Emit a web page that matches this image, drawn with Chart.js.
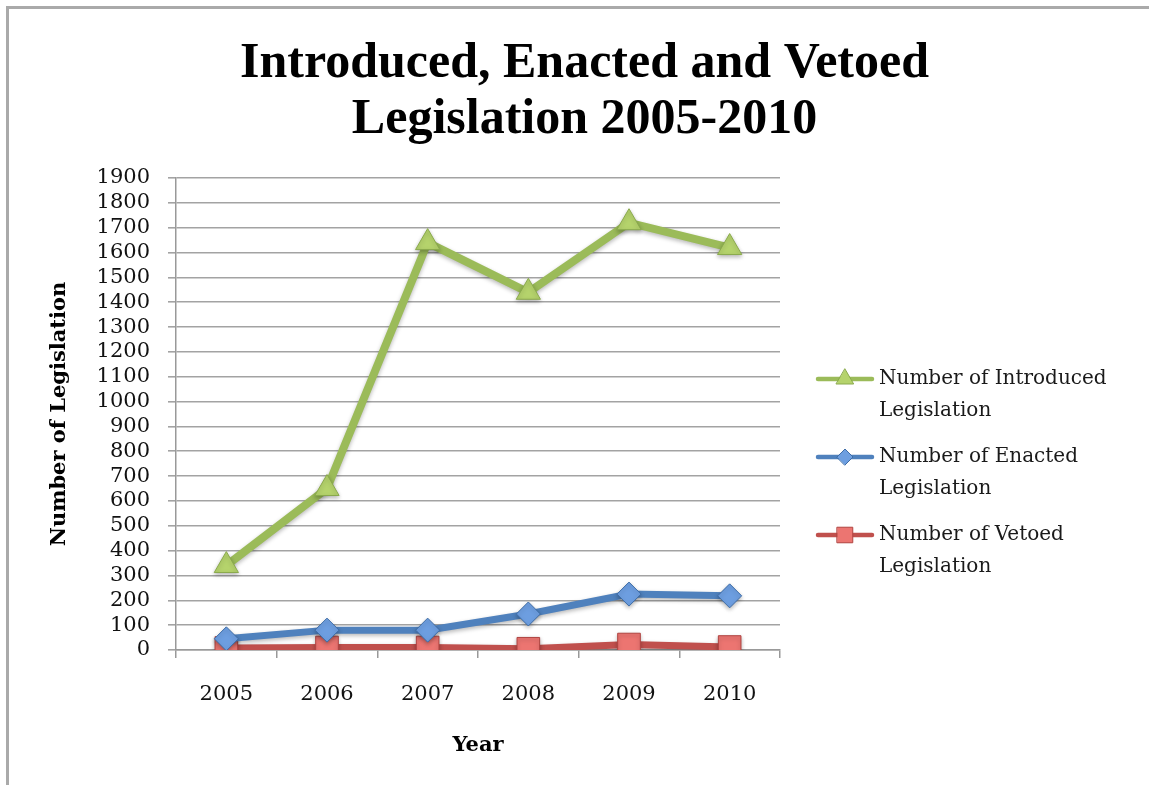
<!DOCTYPE html>
<html>
<head>
<meta charset="utf-8">
<script src="https://cdn.jsdelivr.net/npm/chart.js@4/dist/chart.umd.min.js"></script>
<style>
  html, body { margin:0; padding:0; background:#fff; }
  #wrap { position:relative; width:1149px; height:785px; overflow:hidden; }
  #frame { position:absolute; left:6px; top:6px; right:-10px; bottom:-10px; border-top:3px solid #aaa; border-left:3px solid #aaa; }
  #c { position:absolute; left:0; top:0; }
</style>
</head>
<body>
<div id="wrap">
  <div id="frame"></div>
  <canvas id="c" width="1149" height="785"></canvas>
</div>
<script>
const years = ['2005', '2006', '2007', '2008', '2009', '2010'];
const introduced = [340, 650, 1640, 1440, 1720, 1620];
const enacted = [45, 80, 80, 145, 225, 218];
const vetoed = [8, 10, 10, 5, 22, 12];
const seriesNames = [
  ['Number of Introduced', 'Legislation'],
  ['Number of Enacted', 'Legislation'],
  ['Number of Vetoed', 'Legislation']
];
const yMax = 1900, yStep = 100;

const serif = "'DejaVu Serif', serif";
const titleSerif = "'Liberation Serif', serif";

const styles = [
  { line:'#9bbb59', fill:'#b5d36c', edge:'#8aaa4c', shape:'triangle', r:14 },
  { line:'#4f81bd', fill:'#6d9ee0', edge:'#3d6ca6', shape:'rectRot', r:12 },
  { line:'#c0504d', fill:'#ec7571', edge:'#b04441', shape:'rect', r:16 }
];

// soft shadow under lines and markers, like the office chart
const shadowPlugin = {
  id:'shadow',
  beforeDatasetsDraw(chart){ const c = chart.ctx; c.save(); c.shadowColor='rgba(0,0,0,0.28)'; c.shadowBlur=4; c.shadowOffsetY=2; },
  afterDatasetsDraw(chart){ chart.ctx.restore(); }
};

// wrapped legend on the right
const legendPlugin = {
  id:'wrapLegend',
  afterDraw(chart){
    const c = chart.ctx;
    const x0 = 818, x1 = 872, tx = 879;
    const rows = [379, 457, 535];
    c.save();
    rows.forEach((y, i) => {
      const s = styles[i];
      c.strokeStyle = s.line; c.lineWidth = 4.5; c.lineCap = 'round';
      c.beginPath(); c.moveTo(x0, y); c.lineTo(x1, y); c.stroke();
      c.fillStyle = s.fill; c.strokeStyle = s.edge; c.lineWidth = 1;
      const r = s.shape === 'rect' ? 11 : (s.shape === 'triangle' ? 10 : 8);
      if (Chart.helpers && Chart.helpers.drawPoint) {
        Chart.helpers.drawPoint(c, { pointStyle:s.shape, radius:r, borderWidth:1, rotation:0 }, (x0 + x1) / 2, y);
      }
      c.fillStyle = '#1a1a1a';
      c.font = "20px " + serif;
      c.textBaseline = 'middle'; c.textAlign = 'left';
      seriesNames[i].forEach((t, k) => c.fillText(t, tx, y + k * 32));
    });
    c.restore();
  }
};

const ds = [introduced, enacted, vetoed].map((d, i) => ({
  label: seriesNames[i].join(' '),
  data: d,
  borderColor: styles[i].line,
  borderWidth: i === 0 ? 8 : 7,
  pointStyle: styles[i].shape,
  pointRadius: styles[i].r,
  pointHoverRadius: styles[i].r,
  pointBackgroundColor: styles[i].fill,
  pointBorderColor: styles[i].edge,
  pointBorderWidth: 1,
  tension: 0,
  fill: false
}));

new Chart(document.getElementById('c'), {
  type:'line',
  data:{ labels: years, datasets: ds },
  options:{
    responsive:false,
    animation:false,
    layout:{ padding:{ left:20, right:0, top:0, bottom:0 } },
    plugins:{
      legend:{ display:false },
      tooltip:{ enabled:false },
      title:{
        display:true,
        text:['Introduced, Enacted and Vetoed', 'Legislation 2005-2010'],
        color:'#000',
        font:{ family:titleSerif, size:50, weight:'bold', lineHeight:1.12 },
        padding:{ top:36, bottom:30 }
      }
    },
    scales:{
      x:{
        offset:true,
        grid:{ display:true, drawOnChartArea:false, drawTicks:true, tickLength:8, color:'#999', lineWidth:1.5, offset:true },
        border:{ color:'#999', width:1.5 },
        ticks:{ color:'#111', font:{ family:serif, size:21 }, padding:24 },
        title:{ display:true, text:'Year', color:'#000', font:{ family:serif, size:21, weight:'bold' }, padding:{ top:0, bottom:27 } },
        afterFit(s){ s.height = 135; }
      },
      y:{
        min:0, max:yMax,
        grid:{ color:'#a3a3a3', lineWidth:1.6, tickLength:8 },
        border:{ color:'#999', width:1.5 },
        ticks:{ stepSize:yStep, autoSkip:false, color:'#111', font:{ family:serif, size:21 }, padding:18, callback:v => String(v) },
        title:{ display:true, text:'Number of Legislation', color:'#000', font:{ family:serif, size:21, weight:'bold' }, padding:{ top:27, bottom:0 } },
        afterFit(s){ s.width = 156; }
      },
      pad:{
        position:'right',
        display:true,
        grid:{ display:false },
        border:{ display:false },
        ticks:{ display:false },
        afterFit(s){ s.width = 369; }
      }
    }
  },
  plugins:[shadowPlugin, legendPlugin]
});
</script>
</body>
</html>
